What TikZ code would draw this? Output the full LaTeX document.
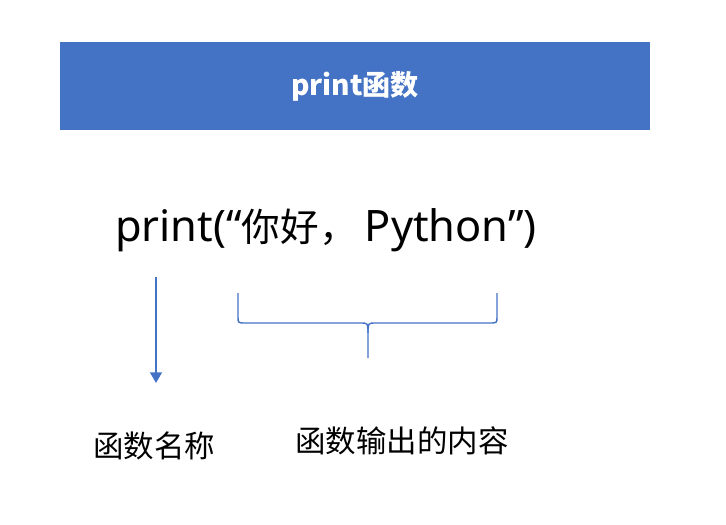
\documentclass[tikz,border=0pt]{standalone}
\usepackage{fontspec}
\setmainfont{Noto Sans CJK SC}
\newfontfamily\latinfont{Noto Sans}
\usetikzlibrary{arrows.meta,positioning,calc}
\definecolor{bannerblue}{HTML}{4472C4}
\newcommand{\lat}[1]{{\latinfont\fontsize{37}{40}\selectfont #1}}

\begin{document}
\begin{tikzpicture}[>=Triangle,x=0.03cm,y=-0.03cm,
 banner/.style={fill=bannerblue,draw=none,minimum width=17.7cm,minimum height=2.64cm,inner sep=0pt,
   text=white,font=\fontsize{24}{28}\selectfont\bfseries},
 code/.style={inner sep=0pt,font=\fontsize{33}{38}\selectfont},
 lab/.style={inner sep=0pt,font=\fontsize{26}{30}\selectfont},
 link/.style={draw=bannerblue,line width=1.2pt}]
\useasboundingbox (0,0) rectangle (726,524);
\node[banner] (title) at (355,86) {print函数};
\node[code] (call) at (326,230) {\lat{print(“}你好，\hspace{6pt}\lat{Python”)}};
\node[lab] (fname) at (154,446) {函数名称};
\node[lab] (fout) at (402,441) {函数输出的内容};
% arrow to the function name
\coordinate (a0) at (156,277);
\coordinate (a1) at (156,383);
\draw[link,line width=1.5pt,-{Triangle[length=9pt,width=10pt]}] (a0) -- (a1);
% brace over the argument
\coordinate (bl) at (238,293);
\coordinate (br) at (497,293);
\coordinate (bm) at (368,358);
\draw[link] (bl) -- ++(0,24)
  .. controls ($(bl)+(0,30)$) .. ($(bl)+(8,30)$) -- ($(bm)+(-8,-35)$)
  .. controls ($(bm)+(0,-35)$) .. ($(bm)+(0,-25)$) -- (bm);
\draw[link] (br) -- ++(0,24)
  .. controls ($(br)+(0,30)$) .. ($(br)+(-8,30)$) -- ($(bm)+(8,-35)$)
  .. controls ($(bm)+(0,-35)$) .. ($(bm)+(0,-25)$);
\end{tikzpicture}
\end{document}
